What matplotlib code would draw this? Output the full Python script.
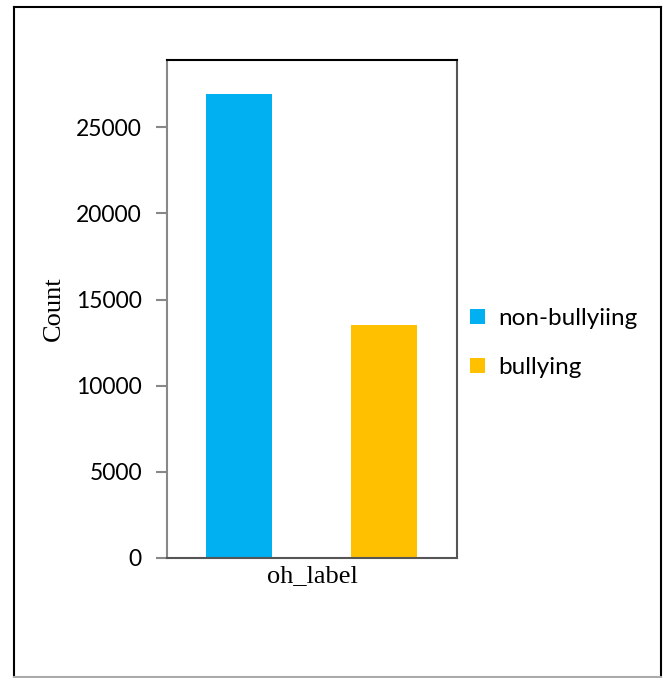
import matplotlib
matplotlib.use('Agg')
import matplotlib.pyplot as plt
from matplotlib.patches import Patch
from matplotlib.lines import Line2D

# Class counts of oh_label
labels = ['non-bullyiing', 'bullying']
counts = [26900, 13500]
colors = ['#00B0F0', '#FFC000']
yticks = [0, 5000, 10000, 15000, 20000, 25000]

fig = plt.figure(figsize=(6.65, 6.78), dpi=100)
ax = fig.add_axes([0.2511, 0.177, 0.436, 0.7345])

for i, (c, col) in enumerate(zip(counts, colors)):
    ax.bar(i, c, width=0.455, color=col, label=labels[i])

ax.set_xlim(-0.5, 1.5)
ax.set_ylim(0, 28900)
ax.set_yticks(yticks)
ax.set_xticks([])
ax.tick_params(axis='y', direction='out', length=8, width=1.5, color='#888888',
               labelsize=16.5, pad=10)
for t in ax.get_yticklabels():
    t.set_fontfamily('Lato')

ax.spines['left'].set_color('#888888')
ax.spines['top'].set_color('black')
ax.spines['right'].set_color('#555555')
ax.spines['bottom'].set_color('#555555')
for s in ax.spines.values():
    s.set_linewidth(1.5)

ax.set_ylabel('Count', fontfamily='Liberation Serif', fontsize=19, labelpad=8)
ax.set_xlabel('oh_label', fontfamily='Liberation Serif', fontsize=19, labelpad=5)

# Legend on the right
handles = [Patch(facecolor=col, edgecolor='none') for col in colors]
fig.legend(handles, labels, loc='center left', bbox_to_anchor=(0.674, 0.494),
           frameon=False, prop={'family': 'Lato', 'size': 17.5},
           handlelength=0.6, handleheight=0.6, handletextpad=0.55,
           labelspacing=1.15)

# Outer frame
x0, x1 = 14 / 665, 661 / 665
y0, y1 = 1 - 677 / 678, 1 - 7 / 678
fig.add_artist(Line2D([x0, x0], [y0, y1], color='black', lw=1.5))
fig.add_artist(Line2D([x0, x1], [y1, y1], color='black', lw=1.5))
fig.add_artist(Line2D([x1, x1], [y0, y1], color='black', lw=1.5))
fig.add_artist(Line2D([x0, x1], [y0, y0], color='#AAAAAA', lw=1.5))

fig.savefig('out.png', dpi=100)
